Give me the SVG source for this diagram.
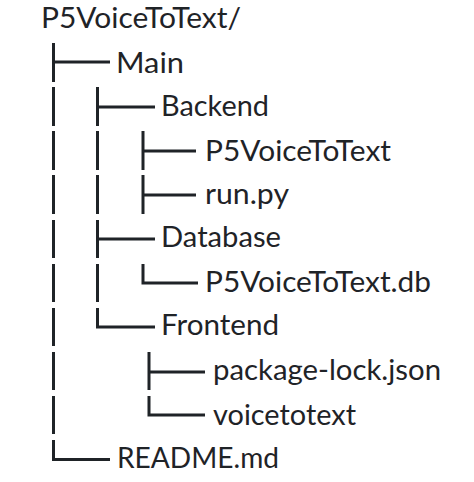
<svg xmlns="http://www.w3.org/2000/svg" width="474" height="482" viewBox="0 0 474 482">
<style>
.t{font-family:Lato,"Open Sans","Liberation Sans",sans-serif;font-size:28px;fill:#1f2327}
.c line,.c path{stroke:#1f2327;stroke-width:3;fill:none;stroke-linecap:butt}
</style>
<rect width="474" height="482" fill="#ffffff"/>
<g class="c" id="connectors">
<!-- level 1, x=53 -->
<line x1="53.5" y1="43" x2="53.5" y2="82"/>
<line x1="53.5" y1="62" x2="110" y2="62"/>
<line x1="53.5" y1="87" x2="53.5" y2="126"/>
<line x1="53.5" y1="131" x2="53.5" y2="170"/>
<line x1="53.5" y1="175" x2="53.5" y2="214"/>
<line x1="53.5" y1="220" x2="53.5" y2="258"/>
<line x1="53.5" y1="264" x2="53.5" y2="302"/>
<line x1="53.5" y1="308" x2="53.5" y2="346"/>
<line x1="53.5" y1="352" x2="53.5" y2="390"/>
<line x1="53.5" y1="396" x2="53.5" y2="434"/>
<path d="M53.5 440V459.5H110"/>
<!-- level 2, x=97 -->
<line x1="97.5" y1="87" x2="97.5" y2="126"/>
<line x1="97.5" y1="107" x2="155" y2="107"/>
<line x1="97.5" y1="131" x2="97.5" y2="170"/>
<line x1="97.5" y1="175" x2="97.5" y2="214"/>
<line x1="97.5" y1="220" x2="97.5" y2="258"/>
<line x1="97.5" y1="239" x2="155" y2="239"/>
<line x1="97.5" y1="264" x2="97.5" y2="302"/>
<path d="M97.5 308V327H155"/>
<!-- level 3, x=143 -->
<line x1="143" y1="131" x2="143" y2="170"/>
<line x1="143" y1="151" x2="196" y2="151"/>
<line x1="143" y1="175" x2="143" y2="214"/>
<line x1="143" y1="195" x2="196" y2="195"/>
<path d="M143 264V283H198"/>
<!-- level 3 frontend, x=149 -->
<line x1="149" y1="352" x2="149" y2="390"/>
<line x1="149" y1="372" x2="205" y2="372"/>
<path d="M149 396V415H205"/>
</g>
<g id="root"><text class="t" x="41" y="28" textLength="200" lengthAdjust="spacingAndGlyphs">P5VoiceToText/</text></g>
<g id="main"><text class="t" x="116" y="73" textLength="68" lengthAdjust="spacingAndGlyphs">Main</text></g>
<g id="backend"><text class="t" x="161" y="116" textLength="108" lengthAdjust="spacingAndGlyphs">Backend</text></g>
<g id="backend-p5"><text class="t" x="205" y="161" textLength="186" lengthAdjust="spacingAndGlyphs">P5VoiceToText</text></g>
<g id="runpy"><text class="t" x="205" y="204" textLength="84" lengthAdjust="spacingAndGlyphs">run.py</text></g>
<g id="database"><text class="t" x="161" y="247" textLength="120" lengthAdjust="spacingAndGlyphs">Database</text></g>
<g id="db"><text class="t" x="205" y="292" textLength="226" lengthAdjust="spacingAndGlyphs">P5VoiceToText.db</text></g>
<g id="frontend"><text class="t" x="161" y="335" textLength="118" lengthAdjust="spacingAndGlyphs">Frontend</text></g>
<g id="pkglock"><text class="t" x="213" y="380" textLength="228" lengthAdjust="spacingAndGlyphs">package-lock.json</text></g>
<g id="voicetotext"><text class="t" x="213" y="425" textLength="143" lengthAdjust="spacingAndGlyphs">voicetotext</text></g>
<g id="readme"><text class="t" x="117" y="468" textLength="162" lengthAdjust="spacingAndGlyphs">README.md</text></g>
</svg>
